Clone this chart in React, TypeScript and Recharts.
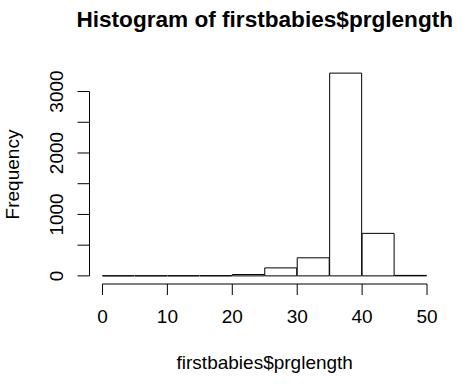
import React from 'react';
import { BarChart, Bar, XAxis, YAxis, ReferenceLine } from 'recharts';

// histogram bins (weeks) and counts
const binStarts = [0, 5, 10, 15, 20, 25, 30, 35, 40, 45];
const binWidth = 5;
const counts = [1, 1, 2, 3, 22, 130, 294, 3300, 692, 8];
const xTicks = [0, 10, 20, 30, 40, 50];
const yTicks = [0, 500, 1000, 1500, 2000, 2500, 3000];
const yLabelled = [0, 1000, 2000, 3000];

const FONT = '"Liberation Sans", Arial, Helvetica, sans-serif';
const W = 467;
const H = 384;

const data = binStarts.map((s, i) => ({ mid: s + binWidth / 2, count: counts[i] }));

// R style axes: range extended by 4% on both ends
const xLo = binStarts[0];
const xHi = binStarts[binStarts.length - 1] + binWidth;
const xPad = (xHi - xLo) * 0.04;
const yMax = Math.max(...counts);
const yPad = yMax * 0.04;

const XTick = (props: any) => {
  const { x, y, payload } = props;
  return (
    <text x={x} y={y + 28} textAnchor="middle" fontSize={19} fontFamily={FONT} fill="#000">
      {payload.value}
    </text>
  );
};

const YTick = (props: any) => {
  const { x, y, payload } = props;
  if (!yLabelled.includes(payload.value)) return <g />;
  return (
    <text
      transform={`translate(${x - 14.5},${y}) rotate(-90)`}
      textAnchor="middle"
      fontSize={19}
      fontFamily={FONT}
      fill="#000"
    >
      {payload.value}
    </text>
  );
};

export default function App() {
  return (
    <div style={{ position: 'absolute', left: 0, top: 0, width: W, height: H, background: '#fff' }}>
      <svg width={W} height={H} style={{ position: 'absolute', left: 0, top: 0 }}>
        <text x={264.75} y={27} textAnchor="middle" fontSize={22.6} fontWeight="bold" fontFamily={FONT} fill="#000">
          Histogram of firstbabies$prglength
        </text>
      </svg>
      <div style={{ position: 'absolute', left: 0, top: 0 }}>
        <BarChart
          width={W}
          height={H}
          data={data}
          margin={{ top: 65, right: 27, bottom: 0, left: 0 }}
          barCategoryGap={0}
          barGap={0}
        >
          <XAxis
            dataKey="mid"
            type="number"
            domain={[xLo - xPad, xHi + xPad]}
            ticks={xTicks}
            interval={0}
            height={100}
            axisLine={false}
            tickLine={{ stroke: '#000', strokeWidth: 1 }}
            tickSize={11}
            tickMargin={0}
            tick={<XTick />}
            label={{
              content: (p: any) => {
                const vb = p.viewBox;
                return (
                  <text x={vb.x + vb.width / 2} y={vb.y + 85} textAnchor="middle" fontSize={19} fontFamily={FONT} fill="#000">
                    firstbabies$prglength
                  </text>
                );
              },
            }}
          />
          <YAxis
            type="number"
            domain={[-yPad, yMax + yPad]}
            ticks={yTicks}
            interval={0}
            width={89.5}
            axisLine={false}
            tickLine={{ stroke: '#000', strokeWidth: 1 }}
            tickSize={12}
            tickMargin={0}
            tick={<YTick />}
            label={{
              content: (p: any) => {
                const vb = p.viewBox;
                return (
                  <text
                    transform={`translate(18.6,${vb.y + vb.height / 2}) rotate(-90)`}
                    textAnchor="middle"
                    fontSize={19}
                    fontFamily={FONT}
                    fill="#000"
                  >
                    Frequency
                  </text>
                );
              },
            }}
          />
          <ReferenceLine
            segment={[{ x: xLo, y: -yPad }, { x: xHi, y: -yPad }]}
            stroke="#000"
            strokeWidth={1}
            ifOverflow="visible"
          />
          <ReferenceLine
            segment={[{ x: xLo - xPad, y: yTicks[0] }, { x: xLo - xPad, y: yTicks[yTicks.length - 1] }]}
            stroke="#000"
            strokeWidth={1}
            ifOverflow="visible"
          />
          <Bar dataKey="count" fill="#fff" stroke="#000" strokeWidth={1} isAnimationActive={false} />
        </BarChart>
      </div>
    </div>
  );
}
